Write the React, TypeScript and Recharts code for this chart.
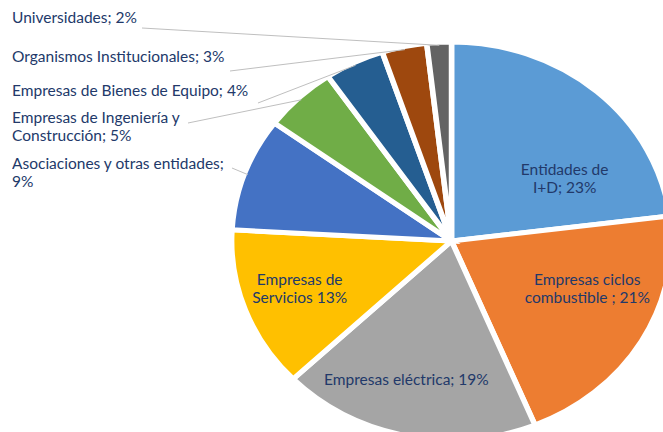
import { PieChart, Pie, Cell } from 'recharts'

const categories = [
  'Entidades de I+D',
  'Empresas ciclos combustible',
  'Empresas eléctrica',
  'Empresas de Servicios',
  'Asociaciones y otras entidades',
  'Empresas de Ingeniería y Construcción',
  'Empresas de Bienes de Equipo',
  'Organismos Institucionales',
  'Universidades',
]
// shares (%); the labels show them rounded
const values = [23.0, 20.8, 19.0, 13.1, 9.2, 5.4, 4.4, 3.3, 1.8]
const labelLines = [
  ['Entidades de', 'I+D; 23%'],
  ['Empresas ciclos', 'combustible ; 21%'],
  ['Empresas eléctrica; 19%'],
  ['Empresas de', 'Servicios 13%'],
  ['Asociaciones y otras entidades;', '9%'],
  ['Empresas de Ingeniería y', 'Construcción; 5%'],
  ['Empresas de Bienes de Equipo; 4%'],
  ['Organismos Institucionales; 3%'],
  ['Universidades; 2%'],
]
const colors = ['#5B9BD5', '#ED7D31', '#A5A5A5', '#FFC000', '#4472C4', '#70AD47', '#255E91', '#9E480E', '#636363']

const data = categories.map((name, i) => ({ name, value: values[i] }))

// the original is stretched horizontally, so the svg is scaled in x and the text is scaled back
const K = 663 / 600
const RAD = Math.PI / 180
const TEXT = '#22396A'
const FONT = 'Lato, sans-serif'
const FS = 15.5
const LH = 18

// label layout (page px)
const insideNudge: Record<number, [number, number]> = { 0: [23, 31], 1: [18, -14], 2: [-17, 18], 3: [-24, 5] }
const sideLayout: Record<number, { y: number; lx: number; ly: number }> = {
  4: { y: 164, lx: 232, ly: 168 },
  5: { y: 118, lx: 188, ly: 123 },
  6: { y: 91, lx: 258, ly: 103 },
  7: { y: 57, lx: 230, ly: 71 },
  8: { y: 18, lx: 142, ly: 28 },
}

const renderLabel = (props: any) => {
  const { cx, cy, midAngle, outerRadius, index } = props
  const cos = Math.cos(midAngle * RAD)
  const sin = Math.sin(midAngle * RAD)
  const lines = labelLines[index]
  const side = sideLayout[index]
  if (side) {
    const r = outerRadius - 3
    const ex = (cx + r * cos) * K
    const ey = cy - r * sin
    return (
      <g transform={`scale(${1 / K},1)`}>
        <polyline points={`${side.lx},${side.ly} ${ex},${ey}`} fill="none" stroke="#BFBFBF" strokeWidth={1} />
        <text x={12} y={side.y + 5} fill={TEXT} fontSize={FS} fontFamily={FONT}>
          {lines.map((t, i) => (
            <tspan key={i} x={12} dy={i === 0 ? 0 : LH}>{t}</tspan>
          ))}
        </text>
      </g>
    )
  }
  const r = outerRadius * 0.62
  const [dx, dy] = insideNudge[index] || [0, 0]
  const x = (cx + r * cos) * K + dx
  const yc = cy - r * sin + dy
  const y0 = yc - ((lines.length - 1) * LH) / 2 + 5
  return (
    <g transform={`scale(${1 / K},1)`}>
      <text x={x} y={y0} fill={TEXT} fontSize={FS} fontFamily={FONT} textAnchor="middle">
        {lines.map((t, i) => (
          <tspan key={i} x={x} dy={i === 0 ? 0 : LH}>{t}</tspan>
        ))}
      </text>
    </g>
  )
}

export default function App() {
  return (
    <div style={{ position: 'absolute', left: 0, top: 0, width: 663, height: 432, overflow: 'hidden', background: '#fff' }}>
      <div style={{ width: 600, height: 432, transform: `scaleX(${K})`, transformOrigin: '0 0' }}>
        <PieChart width={600} height={432}>
          <Pie
            data={data}
            dataKey="value"
            nameKey="name"
            cx={446 / K}
            cy={236}
            outerRadius={199}
            startAngle={90}
            endAngle={-270}
            stroke="#fff"
            strokeWidth={5}
            label={renderLabel}
            labelLine={false}
            isAnimationActive={false}
          >
            {data.map((d, i) => (
              <Cell key={d.name} fill={colors[i]} />
            ))}
          </Pie>
        </PieChart>
      </div>
    </div>
  )
}
